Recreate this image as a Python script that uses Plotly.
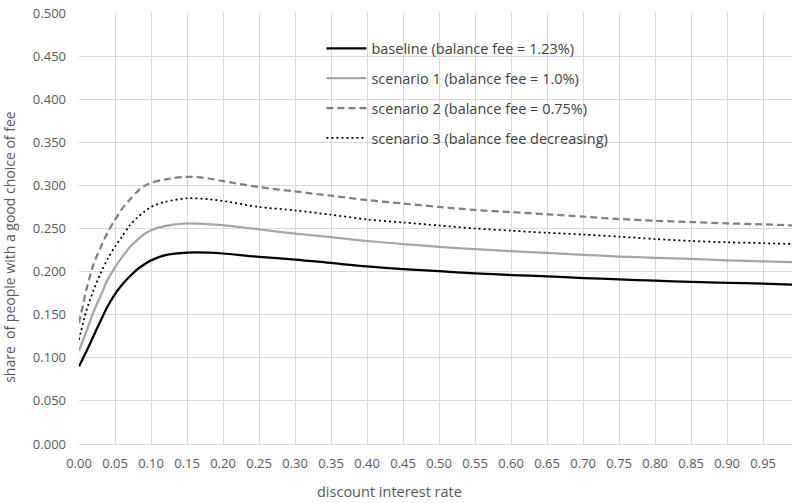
import plotly.graph_objects as go

# discount interest rate (x)
rate = [0.00, 0.01, 0.02, 0.03, 0.04, 0.05, 0.06, 0.07, 0.08, 0.09, 0.10,
        0.12, 0.15, 0.18, 0.20, 0.25, 0.30, 0.35, 0.40, 0.45, 0.50, 0.55,
        0.60, 0.65, 0.70, 0.75, 0.80, 0.85, 0.90, 0.95, 0.99]

baseline = [0.090, 0.107, 0.125, 0.143, 0.160, 0.174, 0.185, 0.194, 0.202, 0.208, 0.213,
            0.219, 0.222, 0.222, 0.221, 0.217, 0.214, 0.210, 0.206, 0.203, 0.2005, 0.198,
            0.196, 0.1945, 0.1925, 0.191, 0.1895, 0.188, 0.187, 0.186, 0.185]

scenario1 = [0.108, 0.130, 0.153, 0.172, 0.191, 0.205, 0.217, 0.228, 0.236, 0.243, 0.248,
             0.253, 0.256, 0.255, 0.254, 0.249, 0.244, 0.240, 0.2355, 0.232, 0.2288, 0.226,
             0.2237, 0.2217, 0.2195, 0.2175, 0.216, 0.2147, 0.213, 0.212, 0.211]

scenario2 = [0.140, 0.178, 0.208, 0.228, 0.246, 0.260, 0.273, 0.283, 0.292, 0.299, 0.303,
             0.307, 0.310, 0.308, 0.305, 0.298, 0.293, 0.288, 0.283, 0.279, 0.275, 0.2715,
             0.269, 0.2665, 0.2638, 0.261, 0.259, 0.2575, 0.256, 0.2548, 0.2535]

scenario3 = [0.121, 0.154, 0.178, 0.198, 0.215, 0.229, 0.241, 0.253, 0.262, 0.269, 0.275,
             0.281, 0.285, 0.284, 0.282, 0.275, 0.271, 0.266, 0.2605, 0.257, 0.2535, 0.250,
             0.2475, 0.245, 0.243, 0.2405, 0.2378, 0.2355, 0.234, 0.233, 0.232]

series_names = ["baseline (balance fee = 1.23%)",
                "scenario 1 (balance fee = 1.0%)",
                "scenario 2 (balance fee = 0.75%)",
                "scenario 3 (balance fee decreasing)"]

x_title = "discount interest rate"
y_title = "share  of people with a good choice of fee"

x_ticks = [round(i * 0.05, 2) for i in range(20)]
x_tick_labels = [f"{v:.2f}" for v in x_ticks]
y_ticks = [round(i * 0.05, 2) for i in range(11)]
y_tick_labels = [f"{v:.3f}" for v in y_ticks]

FONT = "Open Sans"

styles = [
    dict(color="#000000", width=2.25, dash="solid"),
    dict(color="#A6A6A6", width=2.25, dash="solid"),
    dict(color="#808080", width=2.25, dash="7px,4px"),
    dict(color="#000000", width=1.75, dash="2px,3px"),
]

fig = go.Figure()
for i, (name, ys) in enumerate(zip(series_names, [baseline, scenario1, scenario2, scenario3])):
    fig.add_trace(go.Scatter(
        x=rate, y=ys, mode="lines", name=name,
        line=dict(shape="spline", smoothing=0.8, **styles[i]),
        legendgroup=f"g{i}",
    ))

fig.update_layout(
    width=795, height=503,
    margin=dict(l=79, r=3, t=13, b=59),
    paper_bgcolor="white", plot_bgcolor="white",
    font=dict(family=FONT, size=13, color="#595959"),
    legend=dict(
        x=0.340, y=0.955, xanchor="left", yanchor="top",
        font=dict(family=FONT, size=14.5, color="#404040"),
        bgcolor="rgba(0,0,0,0)", tracegroupgap=8,
        itemwidth=40,
    ),
    xaxis=dict(
        range=[0, 0.99], tickvals=x_ticks, ticktext=x_tick_labels,
        showgrid=True, gridcolor="#D9D9D9", gridwidth=1,
        showline=True, linecolor="#D9D9D9", linewidth=1,
        zeroline=False, ticks="", ticklabelstandoff=7,
        tickfont=dict(size=13, color="#595959"),
    ),
    yaxis=dict(
        range=[0, 0.5], tickvals=y_ticks, ticktext=y_tick_labels,
        showgrid=True, gridcolor="#D9D9D9", gridwidth=1,
        zeroline=False, ticks="", ticklabelstandoff=12,
        tickfont=dict(size=13, color="#595959"),
    ),
    annotations=[
        dict(text=x_title, xref="paper", yref="paper", x=0.436, y=-0.111,
             xanchor="center", yanchor="middle", showarrow=False,
             font=dict(family=FONT, size=14.5, color="#595959")),
        dict(text=y_title, xref="paper", yref="paper", x=-0.0985, y=0.457,
             xanchor="center", yanchor="middle", showarrow=False, textangle=-90,
             font=dict(family=FONT, size=14, color="#595959")),
    ],
    showlegend=True,
)

fig.write_html(
    "out.html",
    config={"displayModeBar": False},
    post_script="document.body.style.margin='0';document.body.style.overflow='hidden';",
)
